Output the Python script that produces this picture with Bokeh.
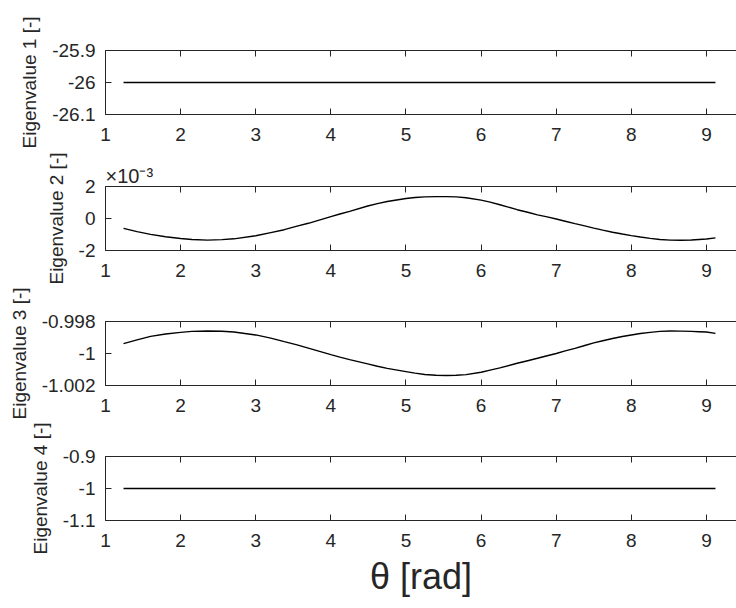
from bokeh.plotting import figure
from bokeh.models import LinearAxis, FixedTicker, Range1d
from bokeh.layouts import column
from bokeh.embed import file_html
from bokeh.resources import INLINE

# ---- data ----
theta = [1.24, 1.42, 1.60, 1.80, 2.00, 2.15, 2.36, 2.55, 2.71, 3.00, 3.20, 3.38, 3.55, 3.70, 4.00,
         4.12, 4.25, 4.49, 4.62, 4.75, 5.00, 5.12, 5.25, 5.40, 5.54, 5.67, 5.80, 6.00, 6.12, 6.25,
         6.48, 6.62, 6.75, 6.88, 7.00, 7.12, 7.25, 7.38, 7.50, 7.62, 7.75, 7.88, 8.00, 8.12, 8.25,
         8.38, 8.52, 8.66, 8.80, 8.90, 9.00, 9.12]
eig1 = [-26.0, -26.0, -26.0, -26.0, -26.0, -26.0, -26.0, -26.0, -26.0, -26.0, -26.0, -26.0, -26.0,
        -26.0, -26.0, -26.0, -26.0, -26.0, -26.0, -26.0, -26.0, -26.0, -26.0, -26.0, -26.0, -26.0,
        -26.0, -26.0, -26.0, -26.0, -26.0, -26.0, -26.0, -26.0, -26.0, -26.0, -26.0, -26.0, -26.0,
        -26.0, -26.0, -26.0, -26.0, -26.0, -26.0, -26.0, -26.0, -26.0, -26.0, -26.0, -26.0, -26.0]
eig2 = [-0.00062, -0.00082, -0.00099, -0.00114, -0.00125, -0.00131, -0.00135, -0.00132, -0.00127,
        -0.00108, -0.00088, -0.00070, -0.00048, -0.00030, 0.00012, 0.00028, 0.00045, 0.00078,
        0.00093, 0.00106, 0.00125, 0.00131, 0.00135, 0.00137, 0.00137, 0.00135, 0.00130, 0.00115,
        0.00102, 0.00086, 0.00055, 0.00039, 0.00023, 0.00010, -0.00003, -0.00017, -0.00032,
        -0.00046, -0.00060, -0.00073, -0.00086, -0.00097, -0.00107, -0.00116, -0.00124, -0.00131,
        -0.00135, -0.00136, -0.00134, -0.00131, -0.00128, -0.00121]
eig3 = [-0.99938, -0.99915, -0.99893, -0.99878, -0.99868, -0.99862, -0.99859, -0.99861, -0.99866,
        -0.99884, -0.99904, -0.99926, -0.99946, -0.99966, -1.00007, -1.00023, -1.00038, -1.00065,
        -1.00080, -1.00093, -1.00113, -1.00123, -1.00131, -1.00136, -1.001375, -1.00136, -1.00132,
        -1.00117, -1.00104, -1.00090, -1.00061, -1.00045, -1.00030, -1.00014, -1.00000, -0.99984,
        -0.99968, -0.99950, -0.99934, -0.99920, -0.99906, -0.99894, -0.99884, -0.99875, -0.99868,
        -0.99862, -0.99859, -0.99860, -0.99862, -0.99864, -0.99866, -0.99874]
eig4 = [-1.0, -1.0, -1.0, -1.0, -1.0, -1.0, -1.0, -1.0, -1.0, -1.0, -1.0, -1.0, -1.0,
        -1.0, -1.0, -1.0, -1.0, -1.0, -1.0, -1.0, -1.0, -1.0, -1.0, -1.0, -1.0, -1.0,
        -1.0, -1.0, -1.0, -1.0, -1.0, -1.0, -1.0, -1.0, -1.0, -1.0, -1.0, -1.0, -1.0,
        -1.0, -1.0, -1.0, -1.0, -1.0, -1.0, -1.0, -1.0, -1.0, -1.0, -1.0, -1.0, -1.0]

x_ticks = [1, 2, 3, 4, 5, 6, 7, 8, 9]
y1_ticks = [-26.1, -26, -25.9]
y1_labels = ["-26.1", "-26", "-25.9"]
y2_ticks = [-0.002, 0, 0.002]
y2_labels = ["-2", "0", "2"]
y3_ticks = [-1.002, -1, -0.998]
y3_labels = ["-1.002", "-1", "-0.998"]
y4_ticks = [-1.1, -1, -0.9]
y4_labels = ["-1.1", "-1", "-0.9"]
y_labels = ["Eigenvalue 1 [-]", "Eigenvalue 2 [-]", "Eigenvalue 3 [-]", "Eigenvalue 4 [-]"]
x_label = "θ [rad]"
exp_label = "×10⁻³"

AX = "#262626"
FONT = "Liberation Sans"
TICK_FS = "19px"


def panel(y, yr, yt, ytl, ylab, height, top, bottom, title=None, xlab=None):
    p = figure(width=736, height=height, x_range=Range1d(1, 9.40), y_range=Range1d(yr[0], yr[1]),
               output_backend="svg", toolbar_location=None,
               x_axis_location=None, y_axis_location=None,
               min_border_left=105, min_border_right=0,
               min_border_top=top, min_border_bottom=bottom,
               title=title)
    p.outline_line_color = None
    p.grid.visible = False
    p.background_fill_color = "white"
    p.border_fill_color = "white"
    if title is not None:
        p.title.text_font = FONT
        p.title.text_font_size = "20px"
        p.title.text_font_style = "normal"
        p.title.text_color = AX
        p.title.align = "left"
        p.title.standoff = 0
        p.title.offset = 0

    common = dict(axis_line_color=AX, axis_line_width=1, major_tick_line_color=AX,
                  major_tick_in=6, major_tick_out=0, minor_tick_in=0, minor_tick_out=0,
                  major_label_text_font=FONT, major_label_text_color=AX)

    xb = LinearAxis(ticker=FixedTicker(ticks=x_ticks), major_label_standoff=13,
                    major_label_text_font_size=TICK_FS, **common)
    if xlab is not None:
        xb.axis_label = xlab
        xb.axis_label_text_font = FONT
        xb.axis_label_text_font_size = "36px"
        xb.axis_label_text_font_style = "normal"
        xb.axis_label_text_color = AX
        xb.axis_label_standoff = 6
    p.add_layout(xb, "below")

    xa = LinearAxis(ticker=FixedTicker(ticks=x_ticks), major_label_standoff=0,
                    major_label_text_font_size="0px", major_label_text_alpha=0, **common)
    p.add_layout(xa, "above")

    yl = LinearAxis(ticker=FixedTicker(ticks=yt),
                    major_label_overrides={t: s for t, s in zip(yt, ytl)},
                    major_label_standoff=10, major_label_text_font_size=TICK_FS,
                    axis_label=ylab,
                    axis_label_text_font=FONT, axis_label_text_font_size="19px",
                    axis_label_text_font_style="normal", axis_label_text_color=AX,
                    axis_label_standoff=9, **common)
    p.add_layout(yl, "left")

    p.line(theta, y, line_color="black", line_width=1.4)
    return p


p1 = panel(eig1, (-26.1, -25.9), y1_ticks, y1_labels, y_labels[0], 150, 50, 36)
p2 = panel(eig2, (-0.002, 0.002), y2_ticks, y2_labels, y_labels[1], 135, 36, 35, title=exp_label)
p3 = panel(eig3, (-1.002, -0.998), y3_ticks, y3_labels, y_labels[2], 135, 36, 35)
p4 = panel(eig4, (-1.1, -0.9), y4_ticks, y4_labels, y_labels[3], 188, 36, 88, xlab=x_label)

layout = column(p1, p2, p3, p4, spacing=0)
open("out.html", "w").write(file_html(layout, INLINE))
